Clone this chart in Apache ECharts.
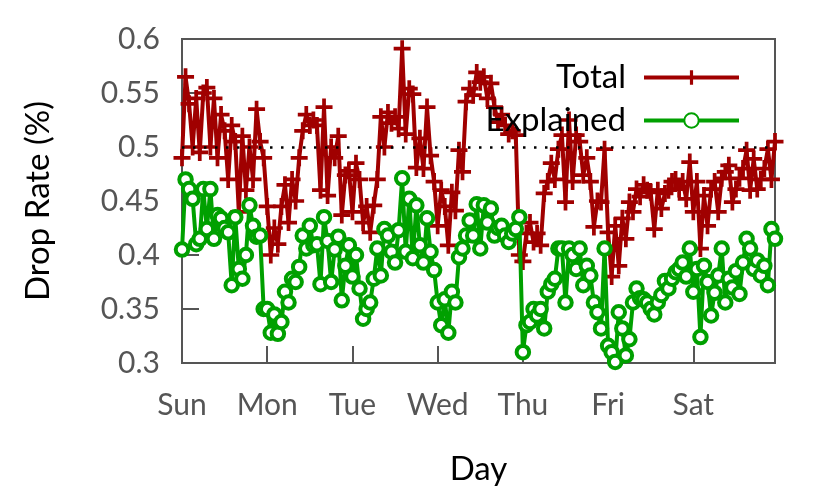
<!DOCTYPE html>
<html>
<head>
<meta charset="utf-8">
<script src="https://cdn.jsdelivr.net/npm/echarts@6/dist/echarts.min.js"></script>
<style>
html,body{margin:0;padding:0;background:#fff;}
#chart{width:830px;height:498px;}
</style>
</head>
<body>
<div id="chart"></div>
<script>
const dayLabels = ['Sun','Mon','Tue','Wed','Thu','Fri','Sat'];
const hoursPerDay = 24;

const totalRate = [
0.490,0.565,0.540,0.500,0.545,0.495,0.550,0.555,0.500,0.545,0.490,0.530,0.515,0.470,0.520,0.505,0.440,0.510,0.460,0.500,0.470,0.535,0.505,0.490,
0.445,0.400,0.425,0.410,0.445,0.465,0.430,0.470,0.450,0.490,0.515,0.530,0.520,0.525,0.520,0.460,0.537,0.455,0.500,0.490,0.510,0.437,0.474,0.478,
0.440,0.485,0.470,0.430,0.445,0.421,0.446,0.470,0.528,0.500,0.532,0.522,0.528,0.517,0.591,0.512,0.554,0.549,0.481,0.508,0.480,0.537,0.492,0.468,
0.427,0.460,0.445,0.409,0.458,0.441,0.497,0.477,0.542,0.554,0.548,0.569,0.560,0.565,0.545,0.559,0.537,0.523,0.530,0.520,0.512,0.515,0.511,0.400,
0.394,0.420,0.430,0.412,0.420,0.409,0.457,0.468,0.485,0.470,0.498,0.511,0.449,0.525,0.468,0.511,0.505,0.474,0.490,0.468,0.426,0.450,0.449,0.498,
0.421,0.380,0.427,0.390,0.434,0.415,0.449,0.440,0.461,0.454,0.465,0.460,0.458,0.424,0.460,0.443,0.457,0.460,0.468,0.470,0.461,0.468,0.452,0.486,
0.440,0.468,0.406,0.455,0.427,0.461,0.468,0.440,0.471,0.477,0.483,0.449,0.461,0.471,0.480,0.497,0.460,0.489,0.461,0.470,0.480,0.498,0.470,0.505
];

const explainedRate = [
0.405,0.470,0.461,0.452,0.410,0.415,0.461,0.424,0.461,0.415,0.437,0.434,0.425,0.421,0.372,0.435,0.387,0.378,0.400,0.446,0.427,0.417,0.418,0.350,
0.350,0.328,0.345,0.327,0.338,0.366,0.356,0.378,0.375,0.389,0.418,0.406,0.427,0.409,0.410,0.373,0.435,0.413,0.375,0.405,0.417,0.358,0.390,0.409,
0.380,0.400,0.369,0.341,0.350,0.356,0.378,0.406,0.381,0.424,0.418,0.403,0.393,0.423,0.471,0.403,0.452,0.397,0.446,0.409,0.393,0.434,0.403,0.386,
0.356,0.335,0.359,0.328,0.366,0.356,0.398,0.406,0.418,0.432,0.418,0.447,0.406,0.446,0.430,0.443,0.418,0.425,0.427,0.418,0.412,0.420,0.424,0.435,
0.310,0.335,0.338,0.350,0.344,0.350,0.332,0.366,0.373,0.378,0.406,0.406,0.356,0.406,0.400,0.387,0.406,0.372,0.390,0.381,0.356,0.347,0.332,0.406,
0.316,0.310,0.301,0.347,0.332,0.307,0.322,0.356,0.369,0.360,0.359,0.356,0.350,0.345,0.356,0.363,0.376,0.369,0.378,0.384,0.387,0.393,0.380,0.406,
0.366,0.387,0.324,0.390,0.375,0.344,0.365,0.381,0.406,0.356,0.378,0.370,0.385,0.364,0.393,0.415,0.406,0.387,0.395,0.381,0.390,0.372,0.424,0.415
];

const yTicks = [0.3,0.35,0.4,0.45,0.5,0.55,0.6];
const referenceLevel = 0.5;

const pairs = arr => arr.map((v,i)=>[i,v]);
const FONT = 'Lato';
const crossPath = 'path://M3.9,0 L6.1,0 L6.1,3.9 L10,3.9 L10,6.1 L6.1,6.1 L6.1,10 L3.9,10 L3.9,6.1 L0,6.1 L0,3.9 L3.9,3.9 Z';

const chart = echarts.init(document.getElementById('chart'), null, {renderer:'canvas'});
chart.setOption({
  animation:false,
  backgroundColor:'#fff',
  grid:{left:182,right:55,top:39,bottom:135,show:true,borderColor:'#555',borderWidth:2,backgroundColor:'transparent'},
  legend:{
    orient:'vertical', right:84, top:56, align:'right', itemWidth:95, itemHeight:18, itemGap:10,
    textStyle:{fontFamily:FONT,fontSize:33,color:'#000',padding:[0,13,0,0]},
    data:[
      {name:'Total', lineStyle:{width:4}},
      {name:'Explained', lineStyle:{width:4}}
    ]
  },
  xAxis:{
    type:'value', min:0, max:totalRate.length-1, interval:hoursPerDay,
    axisLine:{show:true,lineStyle:{color:'#555',width:2}},
    axisTick:{show:true,inside:true,length:17,lineStyle:{color:'#555',width:2}},
    splitLine:{show:false},
    axisLabel:{fontFamily:FONT,fontSize:30,color:'#555',margin:27,
      formatter:v=>{const d=v/hoursPerDay; return Number.isInteger(d)&&dayLabels[d]?dayLabels[d]:'';}},
    name:'Day', nameLocation:'middle', nameGap:90,
    nameTextStyle:{fontFamily:FONT,fontSize:33,color:'#000'}
  },
  yAxis:{
    type:'value', min:yTicks[0], max:yTicks[yTicks.length-1], interval:0.05,
    axisLine:{show:true,lineStyle:{color:'#555',width:2}},
    axisTick:{show:true,inside:true,length:17,lineStyle:{color:'#555',width:2}},
    splitLine:{show:false},
    axisLabel:{fontFamily:FONT,fontSize:30,color:'#555',margin:22,
      formatter:v=>String(parseFloat(v.toFixed(2)))},
    name:'Drop Rate (%)', nameLocation:'middle', nameGap:127, nameRotate:90,
    nameTextStyle:{fontFamily:FONT,fontSize:33,color:'#000'}
  },
  series:[
    {
      type:'line', name:'ref', data:[], z:1, silent:true,
      markLine:{silent:true,symbol:'none',label:{show:false},
        lineStyle:{color:'#000',type:[2.5,8.5],width:2.5},
        data:[{yAxis:referenceLevel}]}
    },
    {
      type:'line', name:'Total', data:pairs(totalRate), z:2,
      color:'#a00000',
      lineStyle:{color:'#a00000',width:4},
      symbol:crossPath, symbolSize:17, showAllSymbol:true,
      itemStyle:{color:'#a00000'}
    },
    {
      type:'line', name:'Explained', data:pairs(explainedRate), z:3,
      color:'#00a000',
      lineStyle:{color:'#00a000',width:4},
      symbol:'circle', symbolSize:12.5, showAllSymbol:true,
      itemStyle:{color:'#fff',borderColor:'#00a000',borderWidth:4}
    }
  ]
});
</script>
</body>
</html>
